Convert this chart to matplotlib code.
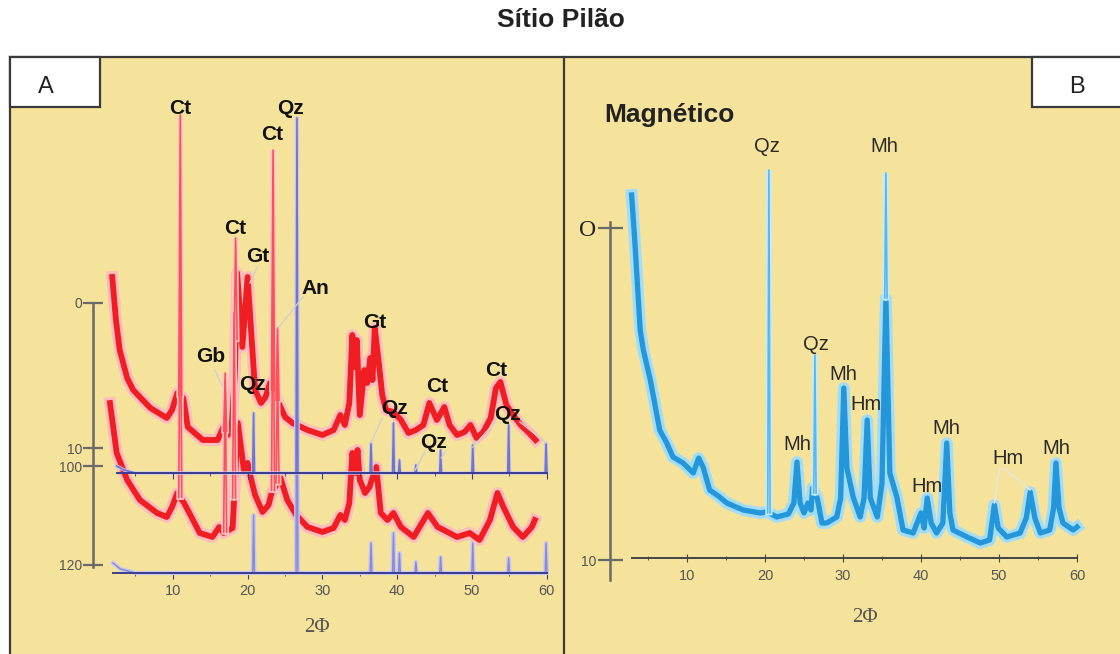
import numpy as np
import matplotlib.pyplot as plt
from matplotlib.patches import Rectangle

plt.rcParams['font.family'] = ['Liberation Sans', 'DejaVu Sans']

W, H = 1120, 654

# ---------------- panel A : stacked patterns ----------------
# upper red pattern (2-theta, intensity above bottom axis)
a_top_t = [1.9, 2.4, 2.9, 3.9, 4.7, 7.0, 9.2, 9.9, 10.6, 11.4, 12.0, 14.0, 16.0, 16.7,
           17.4, 17.9, 18.3, 18.6, 19.3, 20.0, 20.4, 21.0, 21.8, 22.4, 23.0, 24.4, 25.0,
           26.0, 28.0, 30.0, 31.5, 32.4, 33.0, 33.6, 34.0, 34.3, 34.6, 35.0, 35.6, 36.0,
           36.4, 36.7, 37.0, 37.5, 38.0, 38.5, 39.5, 40.5, 41.5, 42.5, 43.5, 44.3, 45.3,
           46.3, 47.0, 48.0, 49.0, 49.8, 50.6, 51.5, 52.5, 53.2, 53.8, 54.6, 55.5, 56.5,
           57.5, 58.5]
a_top_i = [296, 253, 223, 195, 183, 165, 155, 163, 180, 175, 146, 133, 133, 145,
           138, 150, 200, 300, 226, 296, 250, 183, 170, 176, 190, 166, 156,
           150, 143, 138, 143, 158, 148, 170, 238, 206, 233, 158, 203, 190,
           215, 193, 245, 213, 178, 163, 161, 153, 140, 143, 148, 170, 153,
           166, 148, 138, 141, 148, 135, 141, 155, 185, 191, 168, 158, 148,
           141, 133]
a_top_peak_t = [11.0, 17.0, 18.4, 23.4, 24.0]
a_top_peak_i = [458, 193, 335, 423, 245]

# lower red pattern
a_low_t = [1.6, 2.5, 3.9, 5.6, 7.9, 9.2, 9.9, 10.6, 11.5, 12.0, 13.6, 15.3, 16.2, 16.8,
           17.5, 18.0, 18.7, 19.5, 20.0, 20.5, 21.0, 22.0, 22.8, 23.2, 24.4, 25.3, 26.5,
           28.0, 30.0, 31.5, 32.4, 33.0, 33.6, 34.0, 34.4, 34.7, 35.0, 35.7, 36.3, 36.9,
           37.2, 37.8, 38.7, 39.5, 40.5, 42.2, 44.1, 45.4, 46.2, 48.0, 49.7, 51.0, 52.4,
           53.4, 54.2, 55.5, 56.8, 58.0, 58.4]
a_low_i = [170, 120, 93, 73, 60, 56, 66, 80, 70, 63, 40, 36, 46, 40,
           43, 45, 150, 103, 110, 93, 78, 61, 68, 80, 95, 73, 58,
           46, 41, 45, 58, 53, 70, 120, 100, 123, 93, 80, 86, 100,
           106, 60, 53, 60, 46, 36, 60, 46, 43, 36, 40, 33, 53,
           80, 66, 46, 36, 46, 53]
a_low_peak_t = [11.0, 17.0, 18.2, 23.4, 24.0]
a_low_peak_i = [330, 200, 260, 330, 200]

# quartz / reference stick patterns (blue)
qz_t = [20.8, 26.6, 36.5, 39.5, 40.3, 42.5, 45.8, 50.1, 54.9, 59.9]
qz_top_h = [60, 355, 30, 50, 13, 8, 23, 28, 48, 30]
qz_low_h = [58, 455, 30, 40, 20, 11, 16, 30, 15, 30]
qz_top_start_t, qz_top_start_h = [2.5, 3.5, 5.0], [7, 3, 0]
qz_low_start_t, qz_low_start_h = [2.0, 3.0, 5.0], [10, 4, 0]
qz_top_offset = 100

a_labels = ['Ct', 'Qz', 'Ct', 'Ct', 'Gt', 'An', 'Gb', 'Qz', 'Gt', 'Qz', 'Ct', 'Ct', 'Qz', 'Qz']
a_label_t = [11.0, 25.8, 23.3, 18.3, 21.4, 29.1, 15.0, 20.6, 37.0, 39.7, 45.3, 53.3, 44.9, 54.8]
a_label_i = [465, 465, 438, 345, 316, 285, 217, 188, 251, 165, 186, 203, 130, 159]

# ---------------- panel B : magnetic fraction ----------------
b_t = [2.9, 3.3, 4.0, 4.4, 5.3, 6.5, 7.4, 8.2, 9.5, 10.8, 11.5, 12.1, 12.9, 14.0, 15.1,
       17.2, 19.4, 20.3, 21.5, 23.0, 23.7, 24.1, 24.5, 25.0, 25.5, 25.9, 26.1, 26.7,
       27.3, 27.9, 29.2, 29.7, 30.1, 30.5, 31.3, 32.2, 32.7, 33.1, 33.5, 34.4, 35.0,
       35.5, 36.0, 36.9, 37.7, 39.0, 40.0, 40.4, 40.8, 41.3, 42.0, 42.8, 43.3, 43.7,
       44.1, 45.9, 47.6, 48.8, 49.4, 49.9, 51.0, 52.7, 53.5, 54.0, 54.6, 55.3, 56.5,
       57.0, 57.3, 57.7, 58.2, 59.5, 60.0]
b_i = [363, 318, 228, 208, 178, 128, 115, 101, 95, 85, 100, 90, 68, 62, 55,
       48, 45, 46, 41, 44, 55, 96, 55, 45, 55, 48, 70, 60,
       35, 35, 41, 60, 170, 90, 61, 41, 60, 138, 60, 41, 75,
       260, 85, 61, 28, 25, 45, 30, 60, 35, 25, 35, 115, 45,
       28, 21, 15, 18, 53, 30, 21, 25, 40, 66, 40, 25, 28,
       50, 95, 50, 35, 28, 31]
b_peak_t = [20.5, 26.4, 35.5]
b_peak_i = [388, 203, 385]

b_labels = ['Qz', 'Mh', 'Qz', 'Mh', 'Hm', 'Mh', 'Mh', 'Hm', 'Hm', 'Mh']
b_label_t = [20.3, 35.3, 26.5, 30.0, 32.9, 24.1, 43.3, 40.8, 51.2, 57.4]
b_label_i = [412, 411, 213, 184, 154, 113, 130, 72, 100, 110]


def px_rect(x0, y0, x1, y1):
    return [x0 / W, 1 - y1 / H, (x1 - x0) / W, (y1 - y0) / H]


def sticks(start_t, start_h, pos, hts, offset, w=0.12):
    xs, ys = list(start_t), list(start_h)
    for p, h in zip(pos, hts):
        xs += [p - w, p, p + w]
        ys += [0, h, 0]
    xs.append(60)
    ys.append(0)
    return np.array(xs), np.array(ys) + offset


def spikes(ax, body_t, body_i, pos, tops, c_halo, c_core, w=0.2):
    for p, top in zip(pos, tops):
        base = np.interp(p, body_t, body_i)
        ax.plot([p - w, p, p + w], [base, top, base], color=c_halo, lw=3.5, zorder=3,
                solid_joinstyle='miter')
        ax.plot([p - w, p, p + w], [base, top, base], color=c_core, lw=1.2, zorder=3.1)


fig = plt.figure(figsize=(11.2, 6.54), dpi=100)

# background / frames
bg = fig.add_axes([0, 0, 1, 1])
bg.set_xlim(0, W)
bg.set_ylim(H, 0)
bg.axis('off')
bg.add_patch(Rectangle((10, 57), 1112, 600, facecolor='#f5e39b', edgecolor='#3a3a3a', lw=1.6))
bg.plot([564, 564], [57, 654], color='#3a3a3a', lw=1.6)
bg.add_patch(Rectangle((10, 57), 90, 50, facecolor='white', edgecolor='#3a3a3a', lw=1.6))
bg.add_patch(Rectangle((1032, 57), 90, 50, facecolor='white', edgecolor='#3a3a3a', lw=1.6))
bg.text(46, 87, 'A', fontsize=17, ha='center', va='center', color='#222')
bg.text(1077, 87, 'B', fontsize=17, ha='center', va='center', color='#222')
bg.text(561, 20, 'Sítio Pilão', fontsize=19, fontweight='bold', ha='center', va='center',
        color='#222')

# ---- panel A
axA = fig.add_axes(px_rect(10, 57, 565, 654))
axA.set_facecolor('none')
axA.set_xlim(-11.765, 62.433)
axA.set_ylim(-81, 516)

axA.plot(a_low_t, a_low_i, color='#ffbcbc', lw=8.5, zorder=2, solid_joinstyle='round')
axA.plot(a_low_t, a_low_i, color='#f01e23', lw=4.2, zorder=2.1, solid_joinstyle='round')
spikes(axA, a_low_t, a_low_i, a_low_peak_t, a_low_peak_i, '#ffc8c8', '#ff5058')
axA.plot(a_top_t, a_top_i, color='#ffbcbc', lw=8.5, zorder=2.2, solid_joinstyle='round')
axA.plot(a_top_t, a_top_i, color='#f01e23', lw=4.2, zorder=2.3, solid_joinstyle='round')
spikes(axA, a_top_t, a_top_i, a_top_peak_t, a_top_peak_i, '#ffc8c8', '#ff5058')

xl, yl = sticks(qz_low_start_t, qz_low_start_h, qz_t, qz_low_h, 0)
axA.plot(xl, yl, color='#c8c8f2', lw=3.0, zorder=4)
axA.plot(xl, yl, color='#8888d6', lw=1.0, zorder=4.1)
xu, yu = sticks(qz_top_start_t, qz_top_start_h, qz_t, qz_top_h, qz_top_offset)
axA.plot(xu, yu, color='#c8c8f2', lw=2.4, zorder=4.2)
axA.plot(xu, yu, color='#7474c8', lw=1.2, zorder=4.3)

for s, t, i in zip(a_labels, a_label_t, a_label_i):
    axA.text(t, i, s, fontsize=15, fontweight='bold', ha='center', va='center',
             color='#111', zorder=6)

lead_a = [((15.6, 203), (16.7, 186)), ((21.3, 306), (20.3, 290)),
          ((27.4, 276), (24.1, 245)), ((38.0, 155), (36.5, 130)),
          ((43.7, 121), (42.4, 103)), ((46.4, 121), (45.9, 115)),
          ((53.1, 151), (50.1, 126)), ((56.4, 151), (59.9, 130))]
for (x0, y0), (x1, y1) in lead_a:
    axA.plot([x0, x1], [y0, y1], color='#d0d0d0', lw=1.0, zorder=5)

for sp in ['top', 'right']:
    axA.spines[sp].set_visible(False)
axA.spines['bottom'].set_position(('data', 0))
axA.spines['bottom'].set_bounds(2, 60)
axA.spines['bottom'].set_color('#3b3b8f')
axA.spines['bottom'].set_linewidth(1.4)
axA.spines['bottom'].set_zorder(7)
axA.spines['left'].set_position(('data', -0.67))
axA.spines['left'].set_bounds(6, 270)
axA.spines['left'].set_color('#6a6a6a')
axA.spines['left'].set_linewidth(1.8)
axA.set_xticks([10, 20, 30, 40, 50, 60])
axA.set_xticks([5, 15, 25, 35, 45, 55], minor=True)
axA.tick_params(axis='x', which='major', direction='out', length=4, color='#3b3b8f',
                labelsize=10.5, labelcolor='#555', pad=4)
axA.tick_params(axis='x', which='minor', direction='out', length=2, color='#3b3b8f')
axA.set_yticks([8, 107, 125, 270])
axA.set_yticklabels(['120', '100', '10', '0'])
axA.tick_params(axis='y', direction='inout', length=14, width=1.6, color='#6a6a6a',
                labelsize=10, labelcolor='#555', pad=1)
axA.text(29.3, -55, '2Φ', fontsize=15, family=['Liberation Serif', 'DejaVu Serif'],
         ha='center', va='center', color='#555')

axU = fig.add_axes(px_rect(10, 57, 565, 654))
axU.set_facecolor('none')
axU.set_xlim(-11.765, 62.433)
axU.set_ylim(-81, 516)
for sp in ['top', 'right', 'left']:
    axU.spines[sp].set_visible(False)
axU.spines['bottom'].set_position(('data', qz_top_offset))
axU.spines['bottom'].set_bounds(2.5, 60)
axU.spines['bottom'].set_color('#3b3b8f')
axU.spines['bottom'].set_linewidth(1.4)
axU.set_xticks([10, 20, 30, 40, 50, 60])
axU.set_xticks([5, 15, 25, 35, 45, 55], minor=True)
axU.tick_params(axis='x', which='major', direction='out', length=4, color='#3b3b8f',
                labelbottom=False)
axU.tick_params(axis='x', which='minor', direction='out', length=2, color='#3b3b8f')
axU.set_yticks([])

# ---- panel B
axB = fig.add_axes(px_rect(565, 57, 1120, 654))
axB.set_facecolor('none')
axB.set_xlim(-5.641, 65.513)
axB.set_ylim(-96, 501)

axB.plot(b_t, b_i, color='#a2dcf6', lw=8.5, zorder=2, solid_joinstyle='round')
axB.plot(b_t, b_i, color='#2496da', lw=3.8, zorder=2.1, solid_joinstyle='round')
spikes(axB, b_t, b_i, b_peak_t, b_peak_i, '#c4ebfb', '#58b8ea', w=0.15)

for s, t, i in zip(b_labels, b_label_t, b_label_i):
    axB.text(t, i, s, fontsize=14.5, ha='center', va='center', color='#2a2a2a', zorder=6)
axB.text(7.8, 443, 'Magnético', fontsize=19, fontweight='bold', ha='center', va='center',
         color='#222')
for (x0, y0), (x1, y1) in [((50.1, 90), (49.4, 55)), ((50.6, 90), (54.0, 68))]:
    axB.plot([x0, x1], [y0, y1], color='#e6e6e6', lw=1.0, zorder=5)

for sp in ['top', 'right']:
    axB.spines[sp].set_visible(False)
axB.spines['bottom'].set_position(('data', 0))
axB.spines['bottom'].set_bounds(2.9, 60)
axB.spines['bottom'].set_color('#444')
axB.spines['bottom'].set_linewidth(1.4)
axB.spines['left'].set_position(('data', 0.13))
axB.spines['left'].set_bounds(-22, 336)
axB.spines['left'].set_color('#6a6a6a')
axB.spines['left'].set_linewidth(1.8)
axB.set_xticks([10, 20, 30, 40, 50, 60])
axB.set_xticks([5, 15, 25, 35, 45, 55], minor=True)
axB.tick_params(axis='x', which='major', direction='inout', length=6, color='#444',
                labelsize=10.5, labelcolor='#555', pad=5)
axB.tick_params(axis='x', which='minor', direction='inout', length=3, color='#444')
axB.set_yticks([-2, 330])
axB.set_yticklabels(['10', 'O'])
axB.tick_params(axis='y', direction='inout', length=18, width=1.6, color='#6a6a6a',
                labelsize=10, labelcolor='#555', pad=1)
lab_o = axB.get_yticklabels()[1]
lab_o.set_fontsize(17)
lab_o.set_family(['Liberation Serif', 'DejaVu Serif'])
lab_o.set_color('#222')
axB.text(32.8, -59, '2Φ', fontsize=15, family=['Liberation Serif', 'DejaVu Serif'],
         ha='center', va='center', color='#555')

fig.savefig('out.png', dpi=100)
